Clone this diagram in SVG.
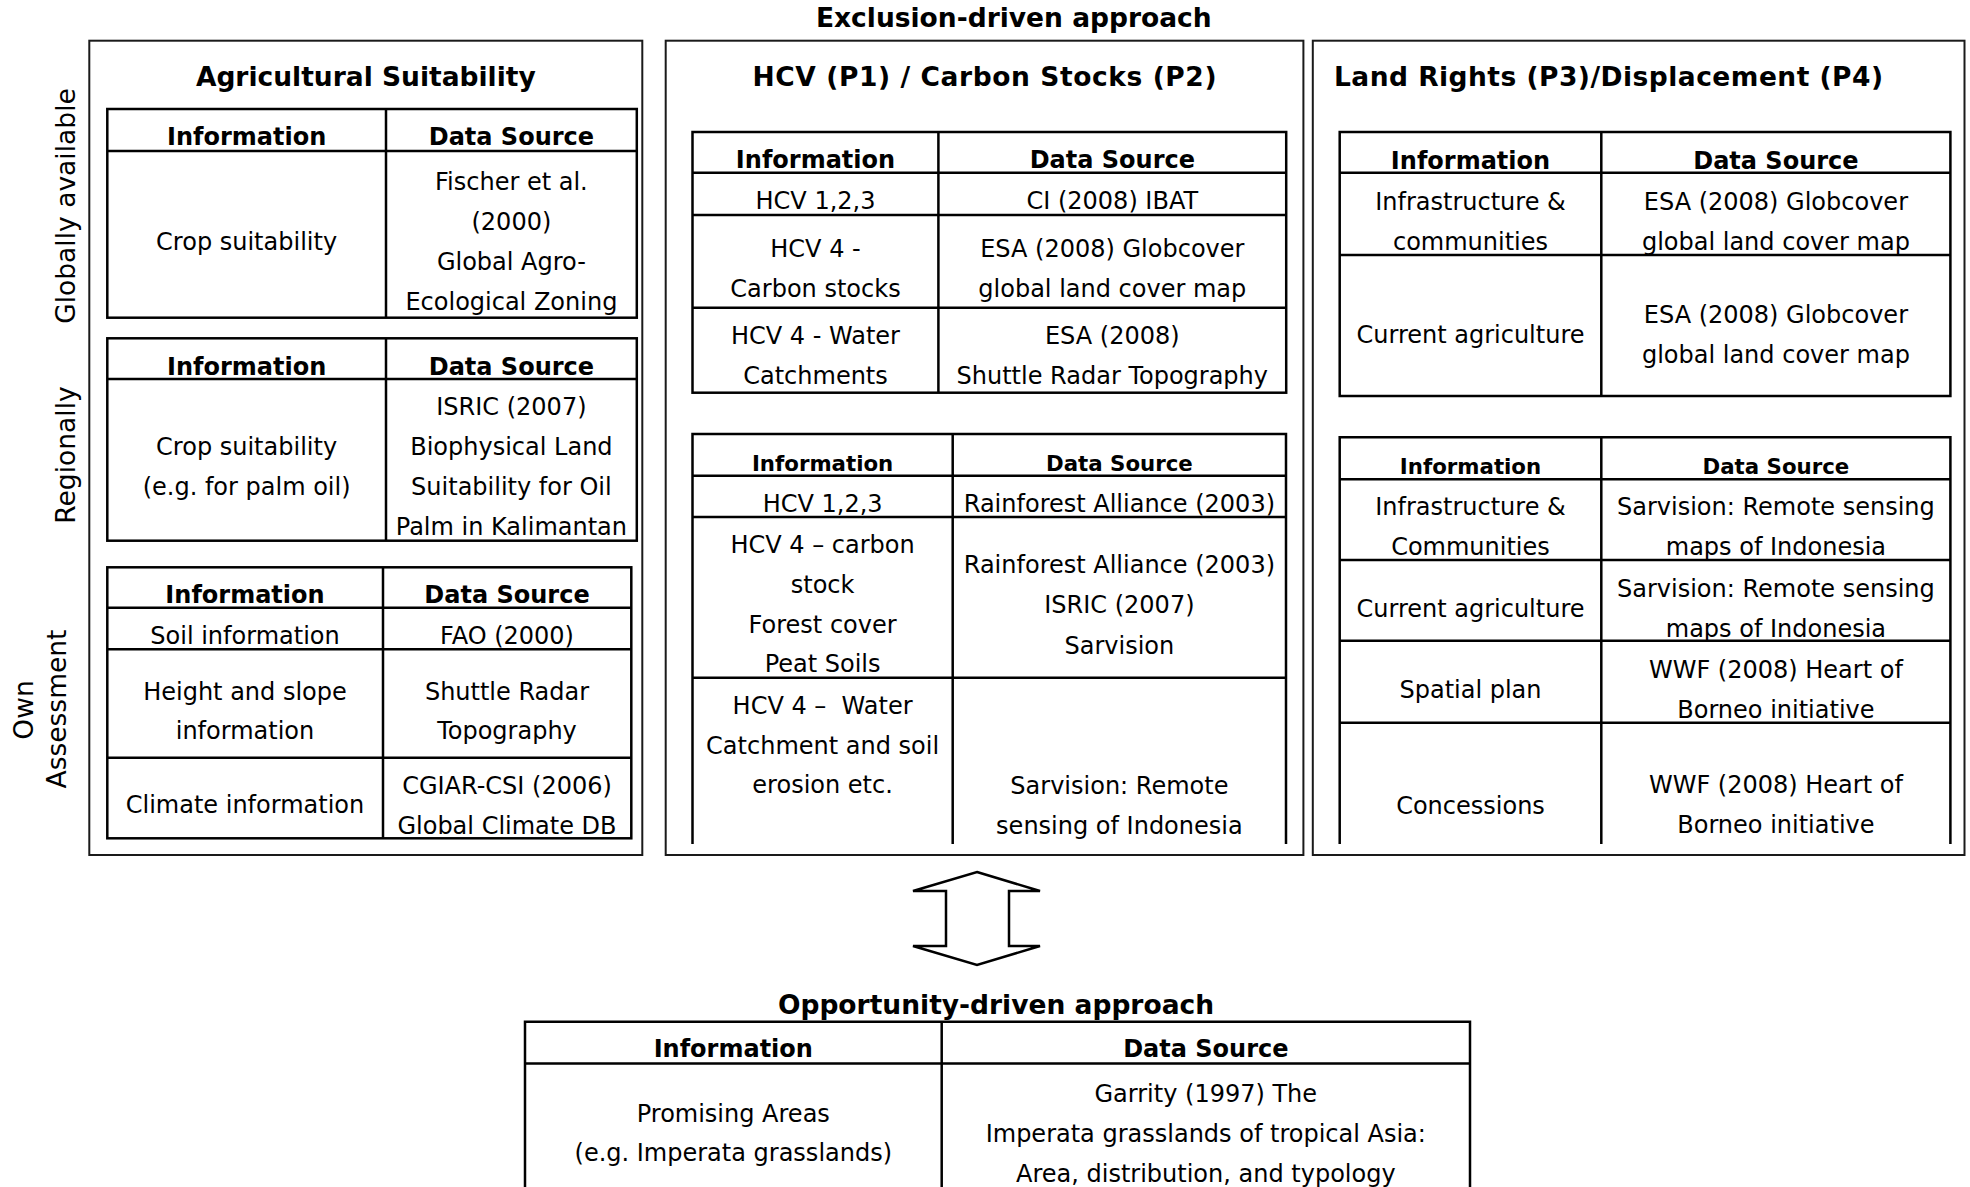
<svg xmlns="http://www.w3.org/2000/svg" width="1970" height="1187" viewBox="0 0 1970 1187">
  <style>
    .box { fill: none; stroke: #1a1a1a; stroke-width: 2; }
    .tb { fill: none; stroke: #000; stroke-width: 2.5; }
    text { font-family: "DejaVu Sans", Verdana, sans-serif; font-size: 24px; fill: #000; text-anchor: middle; }
    .h { font-weight: bold; }
    .h2 { font-weight: bold; font-size: 21.3px; }
    .title { font-weight: bold; font-size: 26.5px; }
    .side { font-size: 26.5px; }
    .pre { white-space: pre; }
  </style>
  <rect width="1970" height="1187" fill="#fff"/>

  <!-- heading above the three exclusion panels -->
  <g id="exclusion-title">
    <text class="title" x="1013.8" y="27">Exclusion-driven approach</text>
  </g>

  <!-- row labels on the left margin -->
  <g id="scale-labels">
    <text class="side" transform="translate(75,206) rotate(-90)">Globally available</text>
    <text class="side" transform="translate(75,455) rotate(-90)">Regionally</text>
    <text class="side" transform="translate(33,710) rotate(-90)">Own</text>
    <text class="side" transform="translate(65.5,709) rotate(-90)">Assessment</text>
  </g>

  <!-- Panel 1: agricultural suitability -->
  <g id="agricultural-suitability">
    <rect class="box" x="89.3" y="40.7" width="553" height="814.3"/>
    <text class="title" x="365.8" y="86">Agricultural Suitability</text>

    <g id="agri-global">
      <rect class="tb" x="107.3" y="109" width="529.5" height="208.7"/>
      <path class="tb" d="M107.3 151H636.8M386 109V317.7"/>
      <text class="h" x="246.6" y="145">Information</text>
      <text class="h" x="511.4" y="145">Data Source</text>
      <text x="246.6" y="250">Crop suitability</text>
      <text x="511.4" y="190">Fischer et al.</text>
      <text x="511.4" y="230">(2000)</text>
      <text x="511.4" y="270">Global Agro-</text>
      <text x="511.4" y="310">Ecological Zoning</text>
    </g>

    <g id="agri-regional">
      <rect class="tb" x="107.3" y="338.3" width="529.5" height="202.4"/>
      <path class="tb" d="M107.3 379H636.8M386 338.3V540.7"/>
      <text class="h" x="246.6" y="375">Information</text>
      <text class="h" x="511.4" y="375">Data Source</text>
      <text x="246.6" y="455">Crop suitability</text>
      <text x="246.6" y="495">(e.g. for palm oil)</text>
      <text x="511.4" y="415">ISRIC (2007)</text>
      <text x="511.4" y="455">Biophysical Land</text>
      <text x="511.4" y="495">Suitability for Oil</text>
      <text x="511.4" y="535">Palm in Kalimantan</text>
    </g>

    <g id="agri-own">
      <rect class="tb" x="107.3" y="567.3" width="524" height="271"/>
      <path class="tb" d="M107.3 607.7H631.3M107.3 649.3H631.3M107.3 757.7H631.3M383 567.3V838.3"/>
      <text class="h" x="245" y="603">Information</text>
      <text class="h" x="507" y="603">Data Source</text>
      <text x="245" y="644">Soil information</text>
      <text x="507" y="644">FAO (2000)</text>
      <text x="245" y="699.5">Height and slope</text>
      <text x="245" y="739">information</text>
      <text x="507" y="699.5">Shuttle Radar</text>
      <text x="507" y="739">Topography</text>
      <text x="245" y="813">Climate information</text>
      <text x="507" y="794">CGIAR-CSI (2006)</text>
      <text x="507" y="834">Global Climate DB</text>
    </g>
  </g>

  <!-- Panel 2: HCV / carbon stocks -->
  <g id="hcv-carbon">
    <rect class="box" x="665.7" y="40.7" width="637.7" height="814.3"/>
    <text class="title" x="984.5" y="86" textLength="464">HCV (P1) / Carbon Stocks (P2)</text>

    <g id="hcv-global">
      <rect class="tb" x="692.5" y="132" width="593.7" height="260.7"/>
      <path class="tb" d="M692.5 172.7H1286.2M692.5 215H1286.2M692.5 307.7H1286.2M938.4 132V392.7"/>
      <text class="h" x="815.5" y="168">Information</text>
      <text class="h" x="1112.3" y="168">Data Source</text>
      <text x="815.5" y="209">HCV 1,2,3</text>
      <text x="1112.3" y="209">CI (2008) IBAT</text>
      <text x="815.5" y="257">HCV 4 -</text>
      <text x="815.5" y="296.5">Carbon stocks</text>
      <text x="1112.3" y="257">ESA (2008) Globcover</text>
      <text x="1112.3" y="296.5">global land cover map</text>
      <text x="815.5" y="343.5">HCV 4 - Water</text>
      <text x="815.5" y="383.5">Catchments</text>
      <text x="1112.3" y="343.5">ESA (2008)</text>
      <text x="1112.3" y="383.5">Shuttle Radar Topography</text>
    </g>

    <g id="hcv-regional">
      <path class="tb" d="M692.5 844V434H1286V844"/>
      <path class="tb" d="M692.5 475.7H1286M692.5 517H1286M692.5 677.7H1286M952.7 434V844"/>
      <text class="h2" x="822.6" y="470.7">Information</text>
      <text class="h2" x="1119.4" y="470.7">Data Source</text>
      <text x="822.6" y="511.7">HCV 1,2,3</text>
      <text x="1119.4" y="511.7">Rainforest Alliance (2003)</text>
      <text x="822.6" y="553.3">HCV 4 – carbon</text>
      <text x="822.6" y="593.3">stock</text>
      <text x="822.6" y="633.3">Forest cover</text>
      <text x="822.6" y="672.3">Peat Soils</text>
      <text x="1119.4" y="573">Rainforest Alliance (2003)</text>
      <text x="1119.4" y="613.3">ISRIC (2007)</text>
      <text x="1119.4" y="653.5">Sarvision</text>
      <text class="pre" x="822.6" y="714.3">HCV 4 –  Water</text>
      <text x="822.6" y="754.3">Catchment and soil</text>
      <text x="822.6" y="793.3">erosion etc.</text>
      <text x="1119.4" y="793.5">Sarvision: Remote</text>
      <text x="1119.4" y="834">sensing of Indonesia</text>
    </g>
  </g>

  <!-- Panel 3: land rights / displacement -->
  <g id="land-rights">
    <rect class="box" x="1312.8" y="40.7" width="651.7" height="814.3"/>
    <text class="title" x="1334" y="86" textLength="549" style="text-anchor:start">Land Rights (P3)/Displacement (P4)</text>

    <g id="land-global">
      <rect class="tb" x="1339.7" y="132" width="610.7" height="264"/>
      <path class="tb" d="M1339.7 172.7H1950.4M1339.7 255H1950.4M1601.3 132V396"/>
      <text class="h" x="1470.5" y="169">Information</text>
      <text class="h" x="1775.9" y="169">Data Source</text>
      <text x="1470.5" y="209.5">Infrastructure &amp;</text>
      <text x="1470.5" y="249.5">communities</text>
      <text x="1775.9" y="209.5">ESA (2008) Globcover</text>
      <text x="1775.9" y="249.5">global land cover map</text>
      <text x="1470.5" y="342.5">Current agriculture</text>
      <text x="1775.9" y="322.5">ESA (2008) Globcover</text>
      <text x="1775.9" y="362.5">global land cover map</text>
    </g>

    <g id="land-regional">
      <path class="tb" d="M1339.7 844V437.3H1950.4V844"/>
      <path class="tb" d="M1339.7 479.3H1950.4M1339.7 560H1950.4M1339.7 640.7H1950.4M1339.7 722.7H1950.4M1601.3 437.3V844"/>
      <text class="h2" x="1470.5" y="474">Information</text>
      <text class="h2" x="1775.9" y="474">Data Source</text>
      <text x="1470.5" y="514.5">Infrastructure &amp;</text>
      <text x="1470.5" y="555">Communities</text>
      <text x="1775.9" y="514.5">Sarvision: Remote sensing</text>
      <text x="1775.9" y="555">maps of Indonesia</text>
      <text x="1470.5" y="616.5">Current agriculture</text>
      <text x="1775.9" y="596.5">Sarvision: Remote sensing</text>
      <text x="1775.9" y="636.5">maps of Indonesia</text>
      <text x="1470.5" y="698">Spatial plan</text>
      <text x="1775.9" y="678">WWF (2008) Heart of</text>
      <text x="1775.9" y="718">Borneo initiative</text>
      <text x="1470.5" y="813.5">Concessions</text>
      <text x="1775.9" y="793">WWF (2008) Heart of</text>
      <text x="1775.9" y="833">Borneo initiative</text>
    </g>
  </g>

  <!-- two-way link between the exclusion and opportunity approaches -->
  <g id="connectors">
    <polygon points="977,872 1040,891 1009,891 1009,946 1040,946 977,965 913,946 946,946 946,891 913,891" fill="#fff" stroke="#000" stroke-width="2.5" stroke-linejoin="miter"/>
  </g>

  <!-- Opportunity-driven table -->
  <g id="opportunity-driven">
    <text class="title" x="996" y="1014">Opportunity-driven approach</text>
    <path class="tb" d="M525 1187V1021.7H1470V1187"/>
    <path class="tb" d="M525 1063.5H1470M941.7 1021.7V1187"/>
    <text class="h" x="733.3" y="1057">Information</text>
    <text class="h" x="1205.8" y="1057">Data Source</text>
    <text x="733.3" y="1122">Promising Areas</text>
    <text x="733.3" y="1161">(e.g. Imperata grasslands)</text>
    <text x="1205.8" y="1102">Garrity (1997) The</text>
    <text x="1205.8" y="1142">Imperata grasslands of tropical Asia:</text>
    <text x="1205.8" y="1182">Area, distribution, and typology</text>
  </g>
</svg>
